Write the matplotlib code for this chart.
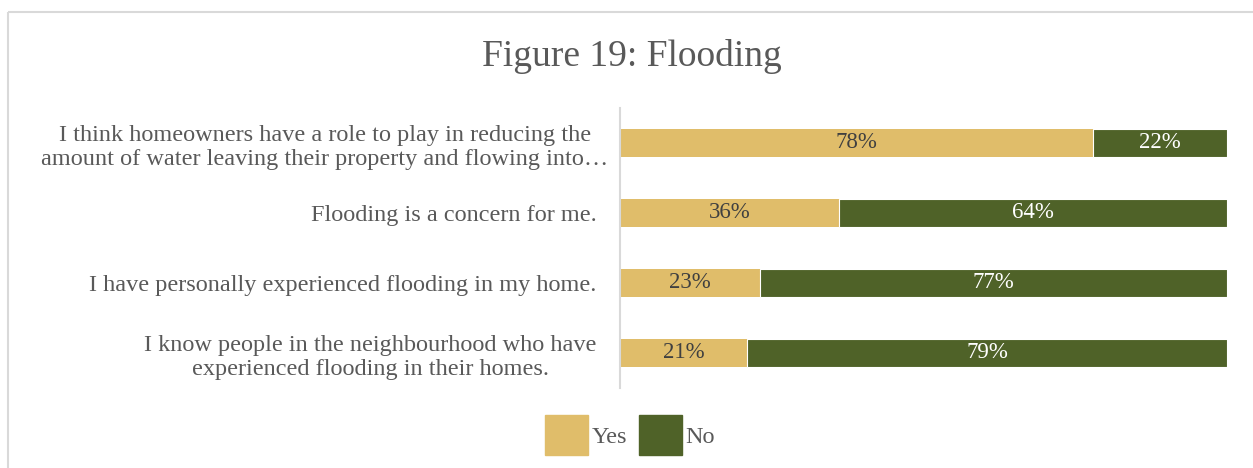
import matplotlib.pyplot as plt
from matplotlib.lines import Line2D
from matplotlib.patches import Patch
from matplotlib.transforms import ScaledTranslation

categories = [
    "I think homeowners have a role to play in reducing the\namount of water leaving their property and flowing into…",
    "Flooding is a concern for me.",
    "I have personally experienced flooding in my home.",
    "I know people in the neighbourhood who have\nexperienced flooding in their homes.",
]
yes_pct = [78, 36, 23, 21]
no_pct = [22, 64, 77, 79]
series_names = ["Yes", "No"]

YES_COLOR = "#E0BD6A"
NO_COLOR = "#4F6228"
TEXT_GRAY = "#595959"
FONT = ["Liberation Serif", "DejaVu Serif"]

plt.rcParams["font.family"] = FONT

fig = plt.figure(figsize=(12.53, 4.68), dpi=100)
W, H = 1253, 468

# outer chart frame (top and left edges)
frame_kw = dict(transform=fig.transFigure, color="#D9D9D9", linewidth=1.5,
                solid_capstyle="butt")
fig.add_artist(Line2D([7.5 / W, 1.0], [1 - 12 / H] * 2, **frame_kw))
fig.add_artist(Line2D([7.5 / W] * 2, [0.0, 1 - 12 / H], **frame_kw))

ax = fig.add_axes([620 / W, 1 - 388 / H, (1227 - 620) / W, (388 - 108) / H])

y = list(range(len(categories)))
bar_h = 0.41
ax.barh(y, yes_pct, height=bar_h, color=YES_COLOR, label=series_names[0])
ax.barh(y, no_pct, left=yes_pct, height=bar_h, color=NO_COLOR,
        edgecolor="white", linewidth=0.8, label=series_names[1])

for i, (a, b) in enumerate(zip(yes_pct, no_pct)):
    ax.text(a / 2, i, f"{a}%", ha="center", va="center", fontsize=16.5,
            color="#404040")
    ax.text(a + b / 2, i, f"{b}%", ha="center", va="center", fontsize=16.5,
            color="white")

ax.set_xlim(0, 100)
ax.set_ylim(len(categories) - 0.5, -0.5)
ax.set_yticks(y)
labels = ax.set_yticklabels(categories, fontsize=17.5, color=TEXT_GRAY,
                            multialignment="center")
ax.tick_params(axis="y", length=0, pad=17)
# the long first label sits slightly further right than the others
labels[0].set_transform(labels[0].get_transform()
                        + ScaledTranslation(12 / 100, 0, fig.dpi_scale_trans))
ax.set_xticks([])
for side in ("top", "right", "bottom"):
    ax.spines[side].set_visible(False)
ax.spines["left"].set_color("#D9D9D9")
ax.spines["left"].set_linewidth(1.5)

fig.text(632 / W, 1 - 56 / H, "Figure 19: Flooding", ha="center",
         va="center", fontsize=27, color=TEXT_GRAY)

handles = [Patch(color=YES_COLOR), Patch(color=NO_COLOR)]
fig.legend(handles, series_names, loc="center", bbox_to_anchor=(630 / W, 1 - 435 / H),
           ncol=2, frameon=False, fontsize=17.5, labelcolor=TEXT_GRAY,
           handlelength=1.75, handleheight=2.2, handletextpad=0.15,
           columnspacing=0.5)

fig.savefig("out.png", dpi=100, facecolor="white")
